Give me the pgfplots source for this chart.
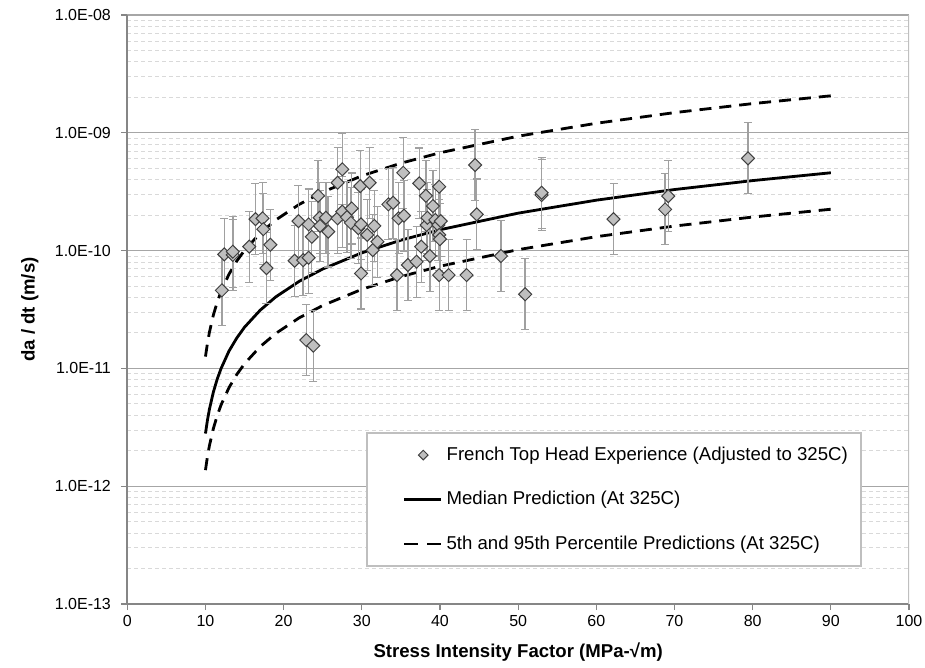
\documentclass[border=0pt]{standalone}
\usepackage{fontspec}
\setmainfont{Liberation Sans}
\usepackage{pgfplots}
\pgfplotsset{compat=1.18}
\usepackage{pgfplotstable}
\definecolor{mgrid}{HTML}{A6A6A6}
\definecolor{ngrid}{HTML}{D9D9D9}
\definecolor{axgray}{HTML}{868686}
\definecolor{ebar}{HTML}{A0A0A0}
\definecolor{mfill}{HTML}{BFBFBF}
\definecolor{legdraw}{HTML}{BFBFBF}

\pgfplotstableread{
x y
12.1 4.6e-11
12.4 9.3e-11
13.5 9.2e-11
13.5 9.8e-11
15.6 1.08e-10
16.4 1.85e-10
17.3 1.88e-10
17.4 1.52e-10
17.8 7.1e-11
18.3 1.12e-10
21.4 8.2e-11
21.9 1.78e-10
22.5 8.3e-11
22.9 1.74e-11
23.2 1.67e-10
23.2 8.7e-11
23.6 1.31e-10
23.8 1.56e-11
24.4 2.92e-10
24.6 1.90e-10
24.65 1.62e-10
25.4 1.90e-10
25.7 1.45e-10
26.9 3.77e-10
26.9 1.88e-10
27.5 4.9e-10
27.5 2.14e-10
28.1 1.92e-10
28.6 1.72e-10
28.7 2.28e-10
29.55 1.55e-10
29.8 3.53e-10
29.9 1.67e-10
29.9 6.4e-11
30.7 1.36e-10
31.0 3.77e-10
31.4 1.01e-10
31.6 1.62e-10
32.0 1.19e-10
33.4 2.47e-10
34.0 2.55e-10
34.5 6.2e-11
34.7 1.88e-10
35.3 4.58e-10
35.4 1.98e-10
35.9 7.55e-11
37.0 8.05e-11
37.35 3.72e-10
37.6 1.08e-10
38.2 2.92e-10
38.3 1.65e-10
38.4 1.90e-10
38.7 9.0e-11
39.1 2.39e-10
39.4 1.82e-10
39.8 1.65e-10
39.9 3.49e-10
39.9 1.36e-10
39.9 6.2e-11
40.0 1.25e-10
40.1 1.78e-10
41.1 6.2e-11
43.4 6.2e-11
44.5 5.33e-10
44.7 2.03e-10
47.8 9.0e-11
50.9 4.26e-11
53.0 2.96e-10
53.0 3.1e-10
62.2 1.85e-10
68.8 2.24e-10
69.2 2.90e-10
79.4 6.07e-10
}\french

\pgfplotstableread{
x med up lo
10 2.80e-12 1.26e-11 1.37e-12
10.25 3.63e-12 1.63e-11 1.78e-12
10.5 4.48e-12 2.02e-11 2.20e-12
11 6.26e-12 2.82e-11 3.07e-12
11.5 8.11e-12 3.65e-11 3.97e-12
12 1.00e-11 4.51e-11 4.91e-12
13 1.40e-11 6.29e-11 6.85e-12
14 1.81e-11 8.15e-11 8.87e-12
15 2.24e-11 1.007e-10 1.097e-11
17 3.12e-11 1.406e-10 1.531e-11
19 4.05e-11 1.821e-10 1.983e-11
22 5.49e-11 2.47e-10 2.69e-11
25 6.98e-11 3.14e-10 3.42e-11
30 9.57e-11 4.31e-10 4.69e-11
35 1.226e-10 5.52e-10 6.01e-11
40 1.504e-10 6.77e-10 7.37e-11
50 2.08e-10 9.36e-10 1.019e-10
60 2.68e-10 1.205e-9 1.313e-10
70 3.30e-10 1.484e-9 1.616e-10
80 3.93e-10 1.770e-9 1.927e-10
90 4.58e-10 2.061e-9 2.245e-10
}\curves

\pgfplotsset{
  mylinelegend/.style={legend image code/.code={\path (-13.5pt,0pt); \draw[##1] (0pt,0pt) -- (18.5pt,0pt);}},
  mymarklegend/.style={legend image code/.code={\path (-13.5pt,0pt) (18.5pt,0pt); \draw[##1] plot coordinates {(9.5pt,0pt)};}},
}

\begin{document}
\begin{tikzpicture}
\begin{axis}[
  scale only axis, width=390.85pt, height=294.5pt,
  at={(0,0)}, anchor=south west,
  xmin=0, xmax=100, ymode=log, ymin=1e-13, ymax=1e-8,
  xtick={0,10,...,100},
  ytick={1e-13,1e-12,1e-11,1e-10,1e-9,1e-8},
  yticklabels={1.0E-13,1.0E-12,1.0E-11,1.0E-10,1.0E-09,1.0E-08},
  minor ytick={2e-13,3e-13,4e-13,5e-13,6e-13,7e-13,8e-13,9e-13,
               2e-12,3e-12,4e-12,5e-12,6e-12,7e-12,8e-12,9e-12,
               2e-11,3e-11,4e-11,5e-11,6e-11,7e-11,8e-11,9e-11,
               2e-10,3e-10,4e-10,5e-10,6e-10,7e-10,8e-10,9e-10,
               2e-9,3e-9,4e-9,5e-9,6e-9,7e-9,8e-9,9e-9},
  axis lines*=left,
  axis line style={axgray, line width=1pt},
  tick style={axgray, line width=0.6pt},
  major tick length=3pt, minor tick length=0pt,
  tick align=outside,
  ymajorgrids, yminorgrids,
  major grid style={mgrid, line width=0.6pt},
  minor grid style={ngrid, line width=0.5pt, dash pattern=on 2pt off 1.5pt},
  /pgf/number format/assume math mode=true,
  ticklabel style={font=\fontsize{8}{10}\selectfont},
  yticklabel style={inner sep=0pt, xshift=-5pt},
  xticklabel style={inner sep=0pt, yshift=-2.5pt},
  xlabel={Stress Intensity Factor (MPa-√m)},
  ylabel={da / dt (m/s)},
  label style={font=\bfseries\fontsize{9.3}{11}\selectfont},
  xlabel style={at={(axis description cs:0.5,-0.0815)}, anchor=center},
  ylabel style={at={(axis description cs:-0.1246,0.5)}, anchor=center},
  legend style={at={(0.3054,0.292)}, anchor=north west, draw=legdraw, line width=0.8pt,
    fill=white, inner xsep=4.5pt, inner ysep=5pt, row sep=10pt, column sep=0pt,
    font=\fontsize{9.3}{11}\selectfont},
  legend cell align=left,
]
\addlegendimage{mymarklegend, only marks, mark=square*, mark size=1.7pt, mark options={rotate=45, fill=mfill, draw=black!75, line width=0.5pt}}
\addlegendentry{French Top Head Experience (Adjusted to 325C)}
\addlegendimage{mylinelegend, black, line width=1.4pt}
\addlegendentry{Median Prediction (At 325C)}
\addlegendimage{mylinelegend, black, line width=1.4pt, dash pattern=on 7pt off 4.5pt}
\addlegendentry{5th and 95th Percentile Predictions (At 325C)}

\draw[legdraw, line width=0.8pt] (rel axis cs:1,0) -- (rel axis cs:1,1);

\addplot[black, line width=1.4pt, forget plot] table[x=x, y=med]{\curves};
\addplot[black, line width=1.4pt, dash pattern=on 6pt off 4pt, forget plot] table[x=x, y=up]{\curves};
\addplot[black, line width=1.4pt, dash pattern=on 6pt off 4pt, forget plot] table[x=x, y=lo]{\curves};

\addplot[forget plot, only marks, mark=square*, mark size=2.3pt,
  mark options={rotate=45, fill=mfill, draw=black!75, line width=0.5pt, solid},
  error bars/.cd, y dir=both, y explicit relative,
  error bar style={ebar, line width=0.7pt},
  error mark options={rotate=90, ebar, mark size=2pt, line width=0.6pt}]
  table[x=x, y=y, y error plus expr=1, y error minus expr=0.5]{\french};
\end{axis}
\pgfresetboundingbox
\path (-63.65pt,-32pt) rectangle (398.85pt,302pt);
\end{tikzpicture}
\end{document}
